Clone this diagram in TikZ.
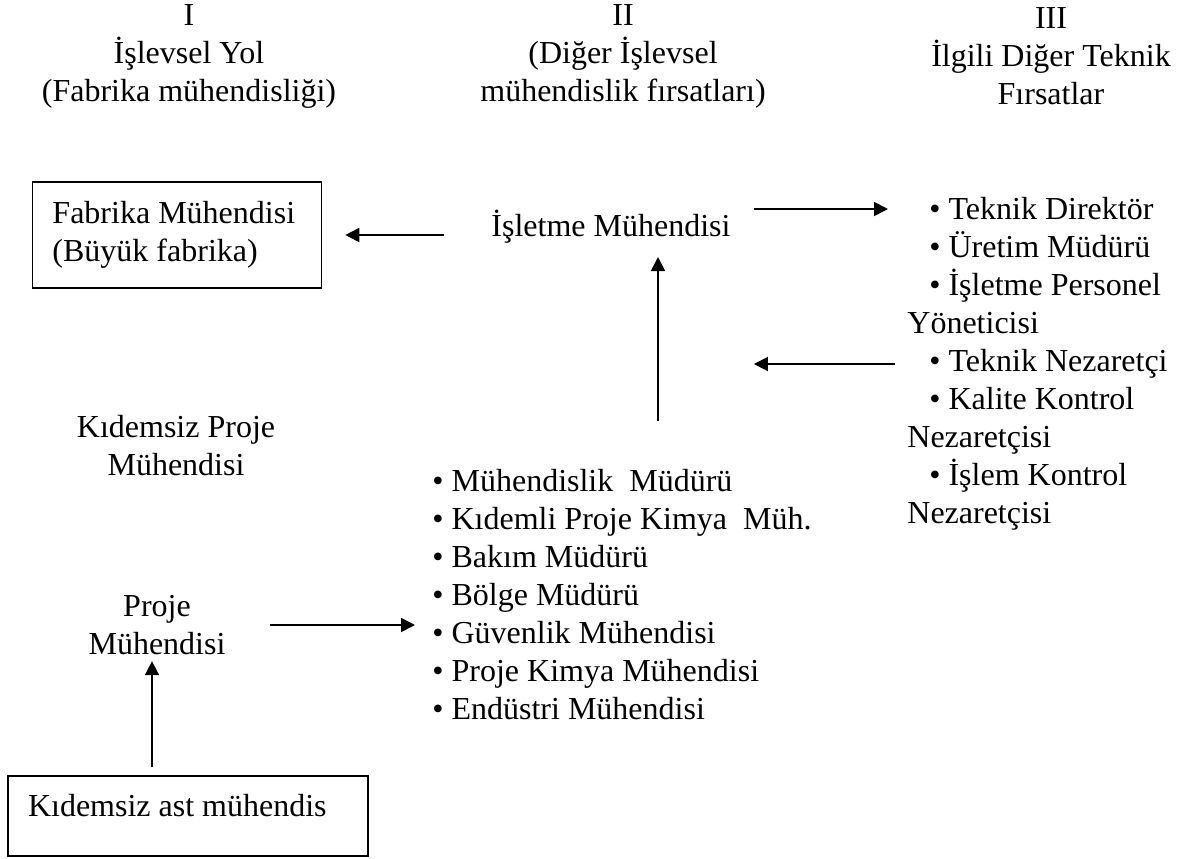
\documentclass[tikz,border=0pt]{standalone}
\usepackage{fontspec}
\setmainfont{Liberation Serif}
\usetikzlibrary{arrows.meta}

\begin{document}
\begin{tikzpicture}[x=0.5pt, y=-0.5pt, >={Triangle[length=7pt,width=7pt]},
  every node/.style={font=\fontsize{16}{19}\selectfont, inner sep=3pt},
  box/.style={draw, line width=0.8pt, align=flush left, inner xsep=10pt,
    execute at begin node={\spaceskip=0pt\relax}},
  list/.style={align=left, inner sep=0pt, anchor=west},
  conn/.style={->, line width=0.9pt}]
  \useasboundingbox (0,0) rectangle (1190,858);

  % column headings
  \node[align=center] (headI) at (189,56) {I\\İşlevsel Yol\\(Fabrika mühendisliği)};
  \node[align=center] (headII) at (623,56) {II\\(Diğer İşlevsel\\mühendislik fırsatları)};
  \node[align=center] (headIII) at (1051,56) {III\\İlgili Diğer Teknik\\Fırsatlar};

  % column I
  \node[box, text width=124.5pt, minimum height=53pt] (fabrika) at (177,235) {Fabrika Mühendisi\\(Büyük fabrika)};
  \node[align=center] (kidemsizProje) at (176,446) {Kıdemsiz Proje\\Mühendisi};
  \node[align=center] (proje) at (157,625) {Proje\\Mühendisi};
  \node[box, text width=160pt, text height=11pt, text depth=11pt, minimum height=40pt] (astBox) at (188,816) {Kıdemsiz ast mühendis};

  % column II
  \node (isletme) at (611,227) {İşletme Mühendisi};
  \node[list] (engList) at (432,595) {• Mühendislik\ \ Müdürü\\• Kıdemli Proje Kimya\ \ Müh.\\• Bakım Müdürü\\• Bölge Müdürü\\• Güvenlik Mühendisi\\• Proje Kimya Mühendisi\\• Endüstri Mühendisi};

  % column III
  \node[list] (techList) at (907,364) {\hspace*{11pt}• Teknik Direktör\\\hspace*{11pt}• Üretim Müdürü\\\hspace*{11pt}• İşletme Personel\\Yöneticisi\\\hspace*{11pt}• Teknik Nezaretçi\\\hspace*{11pt}• Kalite Kontrol\\Nezaretçisi\\\hspace*{11pt}• İşlem Kontrol\\Nezaretçisi};

  % connectors
  \coordinate (upMid) at ([xshift=23.5pt]isletme.south);
  \coordinate (upLeft) at ([xshift=-2.5pt]proje.south);
  \coordinate (rightOut) at ([yshift=9pt]isletme.east);
  \draw[conn, shorten <=20.5pt, shorten >=11.5pt] (fabrika.east -| isletme.west) -- (fabrika.east);
  \draw[conn, shorten <=8.5pt, shorten >=9.5pt] (rightOut) -- (rightOut -| techList.west);
  \draw[conn, shorten <=6pt, shorten >=8.5pt] (techList.west) -- (techList.west -| isletme.east);
  \draw[conn, shorten <=24pt, shorten >=3.5pt] (upMid |- engList.north) -- (upMid);
  \draw[conn, shorten <=19pt, shorten >=8.5pt] (proje.east) -- (proje.east -| engList.west);
  \draw[conn, shorten <=4pt] (astBox.north -| upLeft) -- (upLeft);
\end{tikzpicture}
\end{document}
